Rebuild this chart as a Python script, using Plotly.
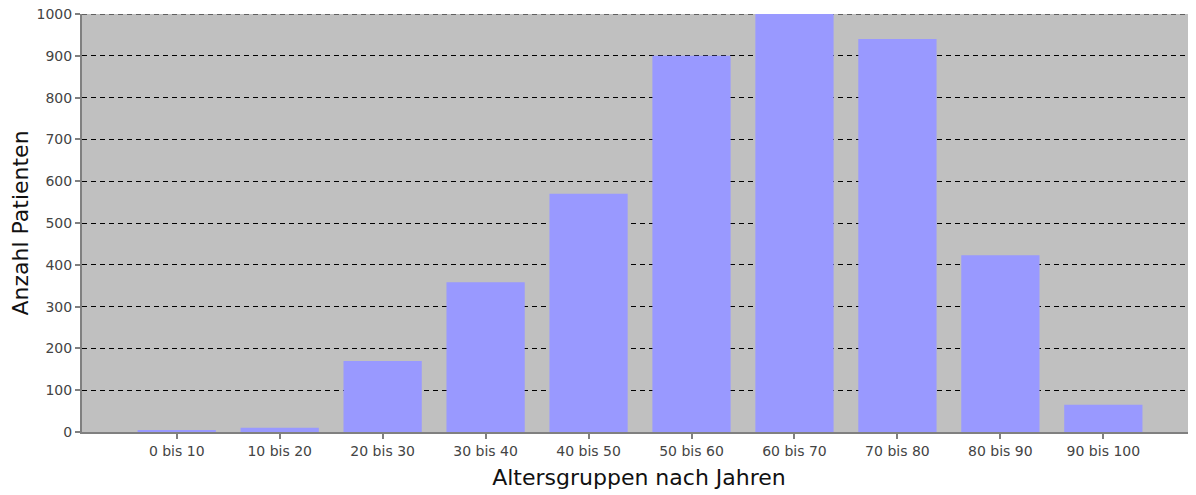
import plotly.graph_objects as go

categories = ["0 bis 10", "10 bis 20", "20 bis 30", "30 bis 40", "40 bis 50",
              "50 bis 60", "60 bis 70", "70 bis 80", "80 bis 90", "90 bis 100"]
patients = [5, 10, 170, 358, 570, 900, 1000, 940, 423, 65]
y_ticks = [0, 100, 200, 300, 400, 500, 600, 700, 800, 900, 1000]
y_max = 1000

fig = go.Figure(go.Bar(
    x=categories, y=patients,
    marker=dict(color="#9999ff", line=dict(width=0)),
    width=0.76,
))

# page body has an 8px default margin, so the figure is sized/offset to compensate
fig.update_layout(
    width=1188, height=487,
    margin=dict(l=74, r=0, t=6, b=63),
    paper_bgcolor="white",
    plot_bgcolor="#c0c0c0",
    font=dict(family="DejaVu Sans", size=14, color="#444444"),
    showlegend=False,
    bargap=0.24,
)
# top gridline at the range edge (plotly omits it)
fig.add_shape(type="line", xref="paper", yref="y", x0=0, x1=1, y0=y_max, y1=y_max,
              line=dict(color="#000000", width=1, dash="5px,4px"), layer="below")
fig.update_xaxes(
    type="category",
    range=[-0.92, 9.9],
    automargin=False,
    showgrid=False,
    showline=True, linecolor="#808080", linewidth=2,
    ticks="outside", ticklen=5, tickwidth=2, tickcolor="#808080",
    tickfont=dict(size=14, color="#444444"),
    ticklabeloverflow="allow",
    title=dict(text="Altersgruppen nach Jahren", font=dict(size=22, color="#111111"), standoff=12),
)
fig.update_yaxes(
    range=[0, y_max],
    tickvals=y_ticks,
    automargin=False,
    showgrid=True, gridcolor="#000000", gridwidth=1, griddash="5px,4px",
    zeroline=False,
    showline=True, linecolor="#808080", linewidth=2,
    ticks="outside", ticklen=5, tickwidth=2, tickcolor="#808080",
    tickfont=dict(size=14, color="#444444"),
    ticklabeloverflow="allow",
    title=dict(text="Anzahl Patienten", font=dict(size=22, color="#111111"), standoff=3),
)

fig.write_html("out.html")
